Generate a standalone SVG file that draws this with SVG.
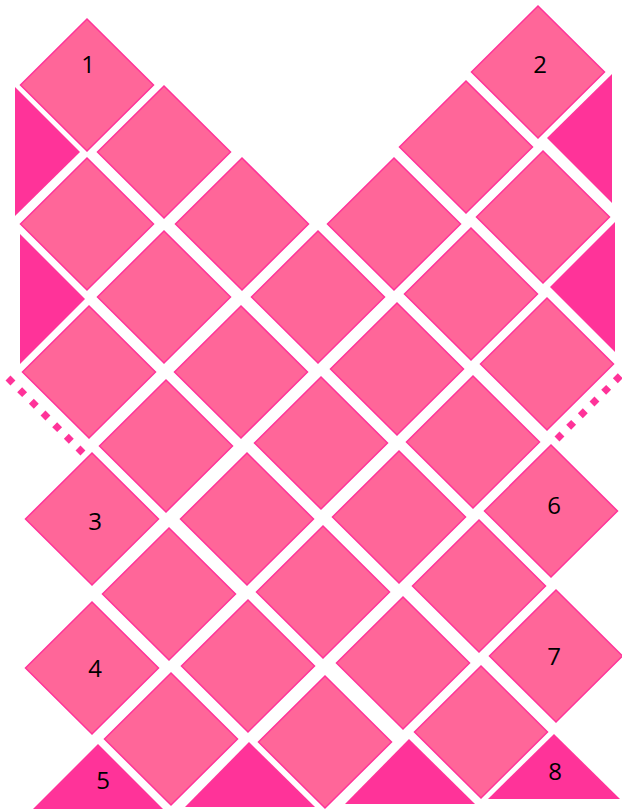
<svg xmlns="http://www.w3.org/2000/svg" xmlns:xlink="http://www.w3.org/1999/xlink" width="622" height="812" viewBox="0 0 622 812">
<style>
.d{fill:#FF6699;stroke:#FF3399;stroke-width:1.5}
.t{fill:#FF3399;stroke:none}
.dot{fill:none;stroke:#FF3399;stroke-width:7;stroke-dasharray:7 9.5}
text{font-family:"Open Sans","Liberation Sans",sans-serif;font-size:24px;fill:#000;text-anchor:middle}
</style>
<defs>
<polygon id="dia" points="0,-66 66.5,0 0,66 -66.5,0"/>
</defs>
<rect width="622" height="812" fill="#fff"/>
<g id="diamonds">
<g id="n1"><use xlink:href="#dia" class="d" x="87" y="85"/><text x="88" y="73">1</text></g>
<g id="n2"><use xlink:href="#dia" class="d" x="538" y="72"/><text x="540" y="73">2</text></g>
<g id="r2a"><use xlink:href="#dia" class="d" x="164" y="152"/></g>
<g id="r2b"><use xlink:href="#dia" class="d" x="466" y="147"/></g>
<g id="r3a"><use xlink:href="#dia" class="d" x="87" y="224"/></g>
<g id="r3b"><use xlink:href="#dia" class="d" x="242" y="224"/></g>
<g id="r3c"><use xlink:href="#dia" class="d" x="394" y="224"/></g>
<g id="r3d"><use xlink:href="#dia" class="d" x="543" y="217"/></g>
<g id="r4a"><use xlink:href="#dia" class="d" x="164" y="297"/></g>
<g id="r4b"><use xlink:href="#dia" class="d" x="318" y="297"/></g>
<g id="r4c"><use xlink:href="#dia" class="d" x="471" y="294"/></g>
<g id="r5a"><use xlink:href="#dia" class="d" x="89" y="372"/></g>
<g id="r5b"><use xlink:href="#dia" class="d" x="241" y="372"/></g>
<g id="r5c"><use xlink:href="#dia" class="d" x="397" y="369"/></g>
<g id="r5d"><use xlink:href="#dia" class="d" x="547" y="364"/></g>
<g id="r6a"><use xlink:href="#dia" class="d" x="166" y="446"/></g>
<g id="r6b"><use xlink:href="#dia" class="d" x="321" y="443"/></g>
<g id="r6c"><use xlink:href="#dia" class="d" x="473" y="442"/></g>
<g id="n3"><use xlink:href="#dia" class="d" x="92" y="519"/><text x="95" y="530">3</text></g>
<g id="r7b"><use xlink:href="#dia" class="d" x="247" y="519"/></g>
<g id="r7c"><use xlink:href="#dia" class="d" x="399" y="517"/></g>
<g id="n6"><use xlink:href="#dia" class="d" x="551" y="511"/><text x="554" y="514">6</text></g>
<g id="r8a"><use xlink:href="#dia" class="d" x="169" y="594"/></g>
<g id="r8b"><use xlink:href="#dia" class="d" x="323" y="592"/></g>
<g id="r8c"><use xlink:href="#dia" class="d" x="479" y="586"/></g>
<g id="n4"><use xlink:href="#dia" class="d" x="92" y="668"/><text x="95" y="677">4</text></g>
<g id="r9b"><use xlink:href="#dia" class="d" x="248" y="666"/></g>
<g id="r9c"><use xlink:href="#dia" class="d" x="403" y="663"/></g>
<g id="n7"><use xlink:href="#dia" class="d" x="556" y="656"/><text x="554" y="665">7</text></g>
<g id="r10a"><use xlink:href="#dia" class="d" x="171" y="739"/></g>
<g id="r10b"><use xlink:href="#dia" class="d" x="325" y="742"/></g>
<g id="r10c"><use xlink:href="#dia" class="d" x="481" y="732"/></g>
</g>
<g id="triangles">
<g id="tl1"><polygon class="t" points="15,87 15,216 80,152"/></g>
<g id="tl2"><polygon class="t" points="20,234 20,364 85,299"/></g>
<g id="tr1"><polygon class="t" points="612,74 612,203 547,138"/></g>
<g id="tr2"><polygon class="t" points="615,222 615,352 550,287"/></g>
<g id="n5"><polygon class="t" points="33,809 163,809 98,744"/><text x="103" y="789">5</text></g>
<g id="tb2"><polygon class="t" points="185,807 315,807 249,742"/></g>
<g id="tb3"><polygon class="t" points="345,804 475,804 409,739"/></g>
<g id="n8"><polygon class="t" points="488,799 620,799 554,734"/><text x="555" y="780">8</text></g>
</g>
<g id="connectors">
<line class="dot" x1="8" y1="378" x2="86" y2="456"/>
<line class="dot" x1="557" y1="439" x2="625" y2="371"/>
</g>
</svg>
